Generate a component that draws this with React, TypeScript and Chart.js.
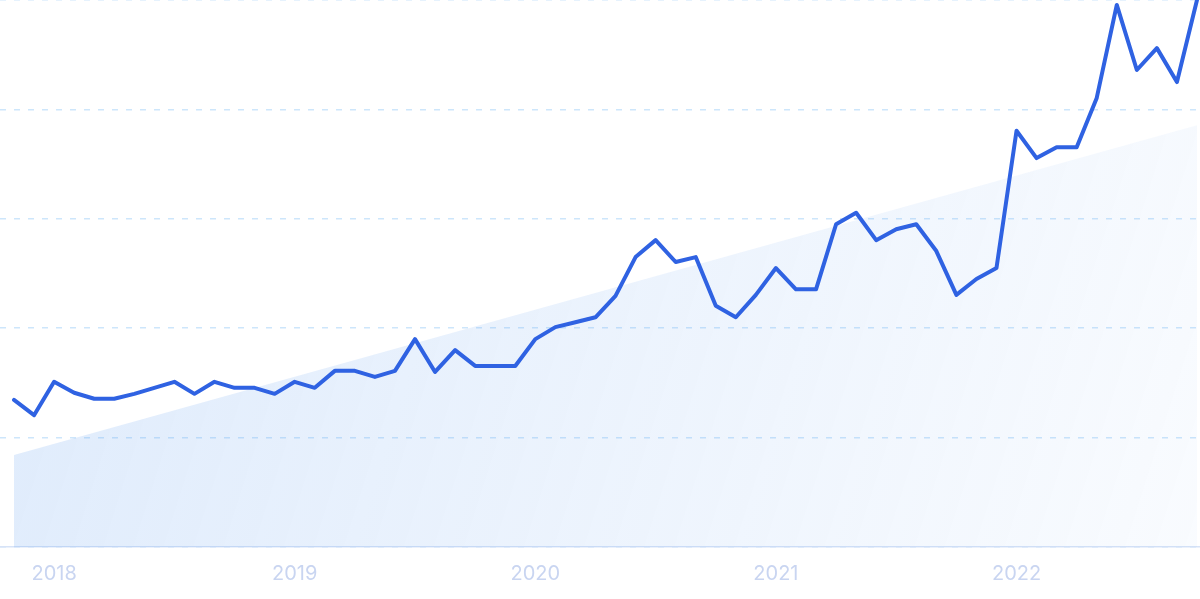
import React, { useEffect, useRef } from "react";
import { Chart, registerables } from "chart.js";

Chart.register(...registerables);

// Monthly values, Nov 2017 .. Oct 2022 (index 0 = Nov 2017)
const seriesValues: number[] = [
  26.9, 24.1, 30.2, 28.2, 27.1, 27.1, 28.0, 29.1, 30.2, 28.0,
  30.2, 29.1, 29.1, 28.0, 30.2, 29.1, 32.2, 32.2, 31.1, 32.2,
  38.0, 32.0, 36.0, 33.1, 33.1, 33.1, 38.0, 40.2, 41.1, 42.0,
  45.9, 53.0, 56.1, 52.1, 53.0, 44.1, 42.0, 46.1, 51.0, 47.1,
  47.1, 59.0, 61.1, 56.1, 58.1, 59.0, 54.1, 46.1, 49.0, 51.0,
  76.1, 71.1, 73.1, 73.1, 82.1, 99.1, 87.2, 91.2, 85.0, 100.0,
];

// Trend line endpoints (start, end); the rest is spanned
const trendStart = 16.8;
const trendEnd = 77.1;

const tickIndices: number[] = [2, 14, 26, 38, 50];
const tickLabels: string[] = ["2018", "2019", "2020", "2021", "2022"];

export default function App() {
  const canvasRef = useRef<HTMLCanvasElement | null>(null);

  useEffect(() => {
    document.body.style.margin = "0";
    const canvas = canvasRef.current;
    if (!canvas) return;

    const lineData = seriesValues.map((v, i) => ({ x: i, y: v }));
    const trendData = seriesValues.map((_, i) => ({
      x: i,
      y: i === 0 ? trendStart : i === seriesValues.length - 1 ? trendEnd : null,
    }));

    const chart = new Chart(canvas, {
      type: "line",
      data: {
        datasets: [
          {
            label: "Trend",
            data: trendData as any,
            spanGaps: true,
            borderWidth: 0,
            borderColor: "rgba(0,0,0,0)",
            pointRadius: 0,
            fill: "origin",
            order: 2,
            backgroundColor: (ctx: any) => {
              const area = ctx.chart.chartArea;
              if (!area) return "rgba(100,160,240,0.15)";
              const g = ctx.chart.ctx.createLinearGradient(
                area.left,
                area.top + area.height * 0.3,
                area.right,
                area.bottom
              );
              g.addColorStop(0, "rgba(100,160,240,0.21)");
              g.addColorStop(1, "rgba(100,160,240,0.04)");
              return g;
            },
          },
          {
            label: "Interest",
            data: lineData,
            borderColor: "#2f62e2",
            borderWidth: 4,
            pointRadius: 0,
            tension: 0,
            fill: false,
            order: 1,
            borderJoinStyle: "round",
            borderCapStyle: "round",
          },
        ],
      },
      options: {
        animation: false,
        responsive: false,
        maintainAspectRatio: false,
        layout: { padding: 0 },
        plugins: {
          legend: { display: false },
          tooltip: { enabled: false },
        },
        scales: {
          x: {
            type: "linear",
            min: -0.698,
            max: 59.15,
            afterBuildTicks: (scale: any) => {
              scale.ticks = tickIndices.map((v) => ({ value: v }));
            },
            afterFit: (scale: any) => {
              scale.height = 52;
            },
            ticks: {
              autoSkip: false,
              maxRotation: 0,
              padding: 15,
              color: "#c9d5f1",
              font: { family: "Inter", size: 20 },
              callback: (value: any) => {
                const idx = tickIndices.indexOf(Number(value));
                return idx >= 0 ? tickLabels[idx] : "";
              },
            },
            grid: { display: false, drawTicks: false },
            border: { display: true, color: "#d7e3f7", width: 1.5 },
          },
          y: {
            min: 0,
            max: 100,
            afterBuildTicks: (scale: any) => {
              scale.ticks = [0, 20, 40, 60, 80, 100].map((v) => ({ value: v }));
            },
            ticks: { display: false },
            grid: {
              color: "#cde6fb",
              lineWidth: 1.5,
              drawTicks: false,
            },
            border: { display: false, dash: [6, 8] },
          },
        },
      },
    });

    return () => chart.destroy();
  }, []);

  return (
    <div style={{ width: 1200, height: 599 }}>
      <canvas ref={canvasRef} width={1200} height={599} style={{ display: "block" }} />
    </div>
  );
}
